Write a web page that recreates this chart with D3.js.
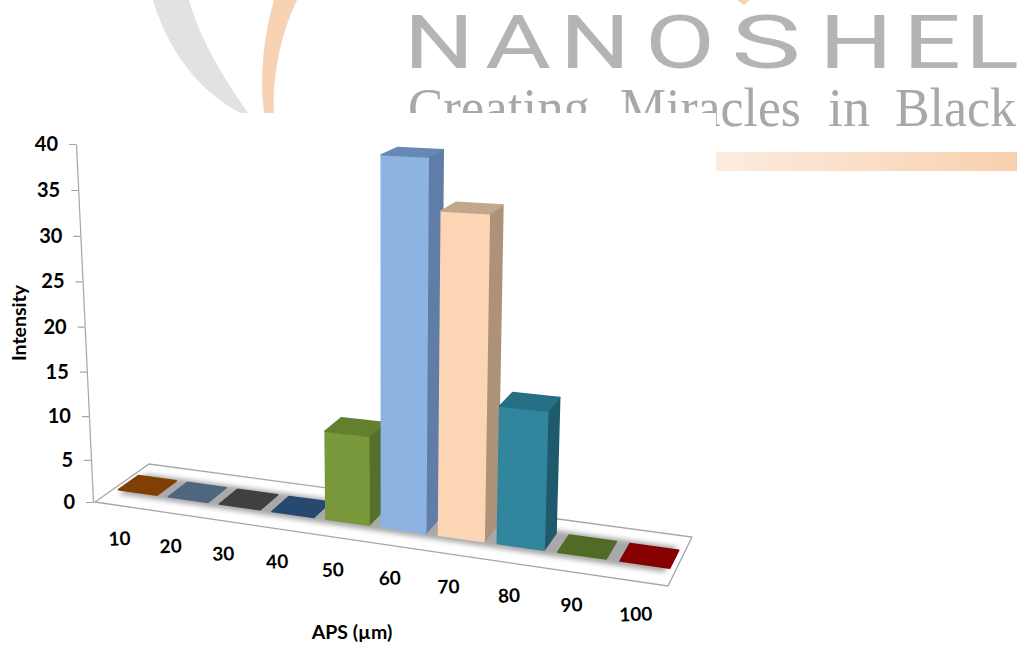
<!DOCTYPE html>
<html>
<head>
<meta charset="utf-8">
<script src="https://cdnjs.cloudflare.com/ajax/libs/d3/7.8.5/d3.min.js"></script>
<style>
  body { margin: 0; background: #fff; }
  svg { display: block; }
  text { font-family: Lato, "Open Sans", sans-serif; }
</style>
</head>
<body>
<div id="chart"></div>
<script>
/* 3D-looking column chart, APS vs intensity, with the logo behind it */
const categories = ["10", "20", "30", "40", "50", "60", "70", "80", "90", "100"];
const values = [0, 0, 0, 0, 10, 40, 34.5, 14.8, 0, 0];
const yTicks = [0, 5, 10, 15, 20, 25, 30, 35, 40];
const frontColors = ["#7f3f05", "#4f6680", "#404040", "#27486f", "#7a983c", "#8db3e2", "#fcd5b5", "#31859c", "#4f6b25", "#870000"];
const sideColors = ["#5c2e04", "#3a4c60", "#2e2e2e", "#1c3553", "#566f2a", "#5f7da6", "#ad9279", "#1f5a6c", "#3a4f1b", "#600000"];
const topColors = ["#7f3f05", "#4f6680", "#404040", "#27486f", "#64802f", "#6688b4", "#c2a78d", "#266f84", "#4f6b25", "#870000"];
const logoLetters = ["N", "A", "N", "O", "S", "H", "E", "L"];
const logoStart = [404, 485, 560, 645, 731, 819, 903, 965];
const logoWidth = [70, 66, 70, 70, 70, 74, 58, 54];
const sloganWords = ["Creating", "Miracles", "in", "Black"];
const sloganStart = [408, 620, 828, 895];
const sloganWidth = [182, 181, 42, 121];

const width = 1022, height = 646;

const svg = d3.select("#chart")
    .append("svg")
    .attr("width", width)
    .attr("height", height)
    .attr("viewBox", [0, 0, width, height]);

const defs = svg.append("defs");

// ---- logo in the background ----
const barGrad = defs.append("linearGradient").attr("id", "logoBar");
barGrad.append("stop").attr("offset", "0%").attr("stop-color", "#fcecdf");
barGrad.append("stop").attr("offset", "100%").attr("stop-color", "#f8d0ae");

const clip = defs.append("clipPath").attr("id", "logoClip");
clip.append("rect").attr("x", 0).attr("y", 0).attr("width", 716).attr("height", 113);
clip.append("rect").attr("x", 716).attr("y", 0).attr("width", 306).attr("height", 200);

const logo = svg.append("g").attr("clip-path", "url(#logoClip)");
logo.append("path")
    .attr("d", "M153,0 C163,35 188,85 240,113 L248,113 C225,80 200,40 189,0 Z")
    .attr("fill", "#e2e2e2");
logo.append("path")
    .attr("d", "M274,0 C264,35 259,75 264,113 L274,113 C272,80 280,35 297,0 Z")
    .attr("fill", "#f7d3b3");
logo.append("path")
    .attr("d", "M737,0 L750,0 L744,5 Z")
    .attr("fill", "#f7d3b3");
logo.selectAll(".letter")
    .data(logoLetters)
    .join("text")
    .attr("class", "letter")
    .attr("x", (d, i) => logoStart[i])
    .attr("y", 68)
    .attr("textLength", (d, i) => logoWidth[i])
    .attr("lengthAdjust", "spacingAndGlyphs")
    .attr("fill", "#b4b4b4")
    .style("font-family", "Roboto")
    .style("font-weight", 400)
    .style("font-size", "74px")
    .text(d => d);
logo.selectAll(".word")
    .data(sloganWords)
    .join("text")
    .attr("class", "word")
    .attr("x", (d, i) => sloganStart[i])
    .attr("y", 126)
    .attr("textLength", (d, i) => sloganWidth[i])
    .attr("lengthAdjust", "spacingAndGlyphs")
    .attr("fill", "#a8a8a8")
    .style("font-family", "Liberation Serif")
    .style("font-size", "54px")
    .text(d => d);
svg.append("rect")
    .attr("x", 716).attr("y", 152)
    .attr("width", 301).attr("height", 19)
    .attr("fill", "url(#logoBar)");

// ---- floor projection: unit square (u along categories, v into the page) to screen ----
function homography(p) {
    const [[x0, y0], [x1, y1], [x2, y2], [x3, y3]] = p;
    const dx1 = x1 - x2, dx2 = x3 - x2, sx = x0 - x1 + x2 - x3;
    const dy1 = y1 - y2, dy2 = y3 - y2, sy = y0 - y1 + y2 - y3;
    const det = dx1 * dy2 - dx2 * dy1;
    const g = (sx * dy2 - dx2 * sy) / det;
    const h = (dx1 * sy - sx * dy1) / det;
    return (u, v) => {
        const w = g * u + h * v + 1;
        return {
            x: ((x1 - x0 + g * x1) * u + (x3 - x0 + h * x3) * v + x0) / w,
            y: ((y1 - y0 + g * y1) * u + (y3 - y0 + h * y3) * v + y0) / w,
            w
        };
    };
}
const floorAt = homography([[95, 502], [668, 586], [692, 537], [149, 464]]);

const x = d3.scaleBand()
    .domain(categories)
    .range([0, 1])
    .paddingInner(0.22)
    .paddingOuter(0.1);

const y = d3.scalePow()
    .exponent(1.03)
    .domain([0, 40])
    .range([502, 144]);

const depthFront = 0.33, depthBack = 0.7;

// screen point for a spot on the floor raised to a given value
function project(u, v, val) {
    const p = floorAt(u, v);
    const rise = (y(0) - y(val)) / p.w * 0.99;
    return {
        x: p.x + rise * (p.x - 385) * 0.00016,
        y: p.y - rise
    };
}
const poly = pts => "M" + pts.map(p => `${p.x},${p.y}`).join("L") + "Z";

// ---- floor ----
const floor = svg.append("g");
const blur = defs.append("filter").attr("id", "soft")
    .attr("x", "-10%").attr("y", "-30%").attr("width", "120%").attr("height", "160%");
blur.append("feGaussianBlur").attr("stdDeviation", 2.5);

floor.append("path")
    .attr("d", poly([floorAt(0, 0), floorAt(1, 0), floorAt(1, 1), floorAt(0, 1)]))
    .attr("fill", "#fff")
    .attr("stroke", "#a6a6a6")
    .attr("stroke-width", 1.3);
floor.append("path")
    .attr("d", poly([floorAt(0.02, 0.24), floorAt(0.985, 0.24), floorAt(0.985, 0.76), floorAt(0.02, 0.76)]))
    .attr("fill", "#a9a9a9")
    .attr("filter", "url(#soft)");

// ---- tilted value axis ----
const tilt = 17 / 358;
svg.append("g")
    .attr("class", "y-axis")
    .attr("transform", `matrix(1,0,${tilt},1,${93 - 502 * tilt},0)`)
    .call(d3.axisLeft(y).tickValues(yTicks).tickSize(7).tickSizeOuter(0).tickFormat(""))
    .call(g => g.selectAll("path, line").attr("stroke", "#a6a6a6").attr("stroke-width", 1.2));

svg.append("g")
    .selectAll("text")
    .data(yTicks)
    .join("text")
    .attr("x", d => 93 - (502 - y(d)) * tilt - 18)
    .attr("y", d => y(d))
    .attr("dy", "0.35em")
    .attr("text-anchor", "end")
    .attr("font-size", 20)
    .attr("font-weight", 700)
    .attr("fill", "#000")
    .text(d => d);

// ---- columns, left to right so later ones cover earlier side faces ----
const bars = svg.append("g")
    .selectAll("g")
    .data(categories)
    .join("g")
    .attr("stroke-linejoin", "round")
    .attr("stroke-width", 1.5);

bars.each(function(c, i) {
    const g = d3.select(this);
    const val = values[i];
    const u0 = x(c), u1 = x(c) + x.bandwidth();
    const fl = project(u0, depthFront, 0), fr = project(u1, depthFront, 0),
          br = project(u1, depthBack, 0);
    const tfl = project(u0, depthFront, val), tfr = project(u1, depthFront, val),
          tbr = project(u1, depthBack, val), tbl = project(u0, depthBack, val);
    if (val > 0) {
        g.append("path").attr("d", poly([fr, br, tbr, tfr]))
            .attr("fill", sideColors[i]).attr("stroke", sideColors[i]);
        g.append("path").attr("d", poly([fl, fr, tfr, tfl]))
            .attr("fill", frontColors[i]).attr("stroke", frontColors[i]);
    }
    g.append("path").attr("d", poly([tfl, tfr, tbr, tbl]))
        .attr("fill", topColors[i]).attr("stroke", topColors[i]);
});

// ---- category labels, hung under the front edge of the floor ----
svg.append("g")
    .selectAll("text")
    .data(categories)
    .join("text")
    .attr("transform", d => {
        const p = floorAt(x(d) + x.bandwidth() / 2, 0);
        return `translate(${p.x},${p.y + 33}) rotate(-2)`;
    })
    .attr("dy", "0.35em")
    .attr("text-anchor", "middle")
    .attr("font-size", 19)
    .attr("font-weight", 700)
    .attr("fill", "#000")
    .text(d => d);

svg.append("text")
    .attr("x", 352).attr("y", 639)
    .attr("text-anchor", "middle")
    .attr("font-size", 19.5)
    .attr("font-weight", 700)
    .text("APS (µm)");

svg.append("text")
    .attr("transform", "translate(26,323) rotate(-90)")
    .attr("text-anchor", "middle")
    .attr("font-size", 19.5)
    .attr("font-weight", 700)
    .text("Intensity");
</script>
</body>
</html>
